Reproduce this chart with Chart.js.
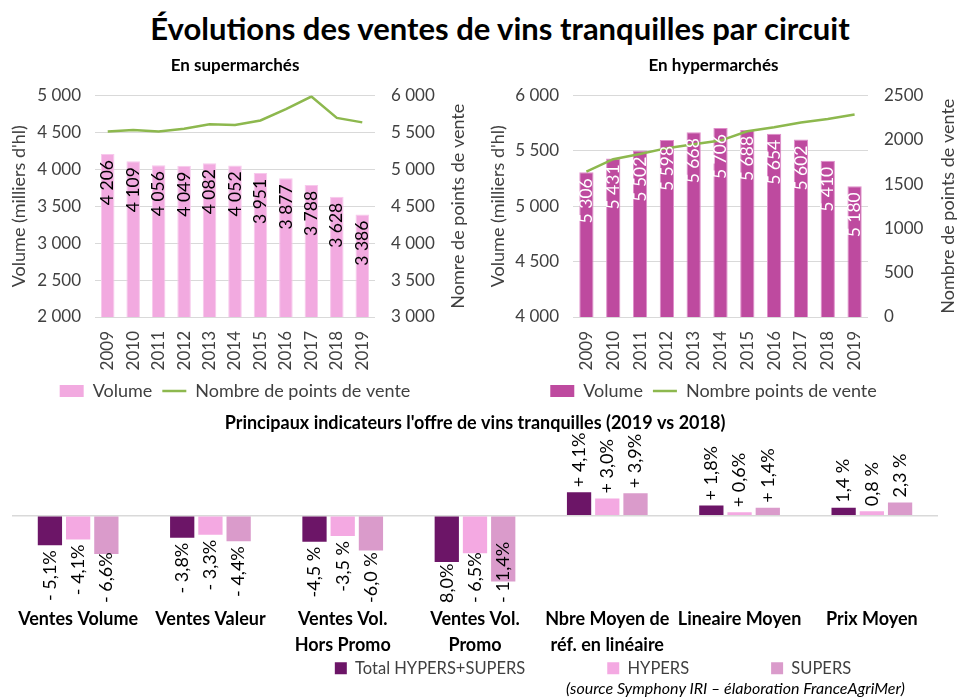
<!DOCTYPE html>
<html>
<head>
<meta charset="utf-8">
<script src="https://cdn.jsdelivr.net/npm/chart.js@4/dist/chart.umd.min.js"></script>
<style>
  body { margin: 0; background: #fff; font-family: Lato, sans-serif; }
  #page { position: relative; width: 957px; height: 698px; overflow: hidden; }
  #mainTitle { position: absolute; left: 0; top: 9px; width: 1000px; text-align: center;
    font-size: 31px; font-weight: bold; color: #000; }
  .box { position: absolute; }
  #source { position: absolute; left: 566px; top: 678px; font-size: 16px; font-style: italic; color: #000; }
</style>
</head>
<body>
<div id="page">
  <div id="mainTitle">Évolutions des ventes de vins tranquilles par circuit</div>
  <div class="box" style="left:0;top:50px;width:470px;height:360px"><canvas id="superChart"></canvas></div>
  <div class="box" style="left:470px;top:50px;width:487px;height:360px"><canvas id="hyperChart"></canvas></div>
  <div class="box" style="left:0;top:410px;width:957px;height:288px"><canvas id="offreChart"></canvas></div>
  <div id="source">(source Symphony IRI – élaboration FranceAgriMer)</div>
</div>
<script>
// Data
const years = ['2009', '2010', '2011', '2012', '2013', '2014', '2015', '2016', '2017', '2018', '2019'];
const superVolume = [4206, 4109, 4056, 4049, 4082, 4052, 3951, 3877, 3788, 3628, 3386];
const superPoints = [5510, 5530, 5510, 5550, 5610, 5600, 5660, 5815, 5985, 5695, 5635];
const hyperVolume = [5306, 5431, 5502, 5598, 5668, 5706, 5688, 5654, 5602, 5410, 5180];
const hyperPoints = [1640, 1780, 1840, 1905, 1950, 1990, 2095, 2140, 2195, 2235, 2285];

const indicators = ['Ventes Volume', 'Ventes Valeur', ['Ventes Vol.', 'Hors Promo'], ['Ventes Vol.', 'Promo'],
    ['Nbre Moyen de', 'réf. en linéaire'], 'Lineaire Moyen', 'Prix Moyen'];
const totalEvol = [-5.1, -3.8, -4.5, -8.0, 4.1, 1.8, 1.4];
const hypersEvol = [-4.1, -3.3, -3.5, -6.5, 3.0, 0.6, 0.8];
const supersEvol = [-6.6, -4.4, -6.0, -11.4, 3.9, 1.4, 2.3];
const totalLabels = ['- 5,1%', '- 3,8%', '-4,5 %', '8,0%', '+ 4,1%', '+ 1,8%', '1,4 %'];
const hypersLabels = ['- 4,1%', '- 3,3%', '-3,5 %', '- 6,5%', '+ 3,0%', '+ 0,6%', '0,8 %'];
const supersLabels = ['- 6,6%', '- 4,4%', '-6,0 %', '- 11,4%', '+ 3,9%', '+ 1,4%', '2,3 %'];

const FONT = 'Lato, sans-serif';
const GRID = '#d9d9d9';
const TXT = '#404040';
const GREEN = '#8DB84E';

// thousands with a space: 5 000
const fmt = v => {
    const s = String(Math.round(v));
    return s.replace(/\B(?=(\d{3})+(?!\d))/g, ' ');
};

// rotated bar labels (no datalabels plugin offline)
const barLabels = {
    id: 'barLabels',
    afterDatasetsDraw(chart, args, opts) {
        const ctx = chart.ctx;
        ctx.save();
        ctx.font = `${opts.size || 15}px ${FONT}`;
        ctx.textBaseline = 'middle';
        chart.data.datasets.forEach((ds, i) => {
            if (ds.type === 'line' || !ds.labels) return;
            const meta = chart.getDatasetMeta(i);
            ctx.fillStyle = ds.labelColor || '#000';
            meta.data.forEach((el, j) => {
                const txt = ds.labels[j];
                const w = ctx.measureText(txt).width;
                ctx.save();
                if (opts.mode === 'inside') {
                    ctx.translate(el.x, el.y + 6);
                    ctx.rotate(-Math.PI / 2);
                    ctx.textAlign = 'right';
                } else if (ds.data[j] < 0) {
                    let y = el.y + 5;
                    const limit = chart.chartArea.bottom - 2;
                    if (y + w > limit) y = limit - w;
                    ctx.translate(el.x, y);
                    ctx.rotate(-Math.PI / 2);
                    ctx.textAlign = 'right';
                } else {
                    ctx.translate(el.x, el.y - 5);
                    ctx.rotate(-Math.PI / 2);
                    ctx.textAlign = 'left';
                }
                ctx.fillText(txt, 0, 0);
                ctx.restore();
            });
        });
        ctx.restore();
    }
};

// right axis title read bottom-to-top, like the left one
const rightTitle = {
    id: 'rightTitle',
    afterDraw(chart, args, opts) {
        if (!opts.text) return;
        const ctx = chart.ctx;
        const s = chart.scales.y2;
        const area = chart.chartArea;
        ctx.save();
        ctx.font = `${opts.size}px ${FONT}`;
        ctx.fillStyle = TXT;
        ctx.textAlign = 'center';
        ctx.textBaseline = 'middle';
        ctx.translate(s.right - opts.inset, (area.top + area.bottom) / 2);
        ctx.rotate(-Math.PI / 2);
        ctx.fillText(opts.text, 0, 0);
        ctx.restore();
    }
};

// move the legend of the bottom chart (wide item padding, small box)
const legendShift = {
    id: 'legendShift',
    afterLayout(chart, args, opts) {
        const l = chart.legend;
        l.left += opts.dx || 0;
        l.right += opts.dx || 0;
        l.top += opts.dy || 0;
        l.bottom = chart.height;
    }
};

function makeCircuitChart(id, title, volume, points, barColor, borderColor, labelColor,
                          yMin, yMax, yMin2, yMax2, rightText, lineLabel, leftW, rightW, rightFmt, leftTitlePad, rightInset) {
    return new Chart(document.getElementById(id), {
        data: {
            labels: years,
            datasets: [
                {
                    type: 'line',
                    label: lineLabel,
                    data: points,
                    yAxisID: 'y2',
                    borderColor: GREEN,
                    backgroundColor: GREEN,
                    borderWidth: 2.5,
                    pointRadius: 0,
                    tension: 0,
                    order: 0
                },
                {
                    type: 'bar',
                    label: 'Volume',
                    data: volume,
                    yAxisID: 'y',
                    backgroundColor: barColor,
                    borderColor: borderColor,
                    borderWidth: 1,
                    barPercentage: 0.95,
                    categoryPercentage: 0.56,
                    labels: volume.map(fmt),
                    labelColor: labelColor,
                    order: 1
                }
            ]
        },
        options: {
            responsive: true,
            maintainAspectRatio: false,
            animation: false,
            plugins: {
                title: {
                    display: true,
                    text: title,
                    color: '#000',
                    font: { family: FONT, size: 17, weight: 'bold' },
                    padding: { top: 5, bottom: 20 }
                },
                legend: {
                    position: 'bottom',
                    reverse: true,
                    labels: {
                        color: TXT,
                        font: { family: FONT, size: 18 },
                        usePointStyle: true,
                        pointStyleWidth: 24,
                        boxHeight: 12,
                        padding: 10,
                        generateLabels(chart) {
                            return chart.data.datasets.map((ds, i) => ({
                                text: ds.label,
                                fillStyle: ds.backgroundColor,
                                strokeStyle: ds.type === 'line' ? GREEN : ds.backgroundColor,
                                lineWidth: ds.type === 'line' ? 2.5 : 0,
                                datasetIndex: i,
                                pointStyle: ds.type === 'line' ? 'line' : 'rect',
                                fontColor: TXT
                            }));
                        }
                    }
                },
                tooltip: { enabled: false },
                barLabels: { mode: 'inside', size: 17.5 },
                rightTitle: { text: rightText, size: 18, inset: rightInset }
            },
            scales: {
                x: {
                    grid: { display: false },
                    border: { display: false },
                    ticks: { color: TXT, font: { family: FONT, size: 17 }, maxRotation: 90, minRotation: 90, padding: 6 },
                    afterFit(s) { s.height = 55; }
                },
                y: {
                    position: 'left',
                    min: yMin, max: yMax,
                    ticks: { stepSize: 500, color: TXT, font: { family: FONT, size: 17 }, padding: 14, callback: v => fmt(v) },
                    grid: { color: GRID, drawTicks: false, lineWidth: 1 },
                    border: { display: false },
                    title: { display: true, text: "Volume (milliers d'hl)", color: TXT, font: { family: FONT, size: 18 },
                             padding: { top: leftTitlePad, bottom: 0 } },
                    afterFit(s) { s.width = leftW; }
                },
                y2: {
                    position: 'right',
                    min: yMin2, max: yMax2,
                    ticks: { stepSize: 500, color: TXT, font: { family: FONT, size: 17 }, padding: 16, callback: rightFmt },
                    grid: { display: false, drawTicks: false },
                    border: { display: false },
                    afterFit(s) { s.width = rightW; }
                }
            }
        },
        plugins: [barLabels, rightTitle]
    });
}

makeCircuitChart('superChart', 'En supermarchés', superVolume, superPoints, '#F2AAE0', '#F7C9EC', '#000',
    2000, 5000, 3000, 6000, 'Nomre de points de vente', 'Nombre de points de vente', 95, 95, v => fmt(v), 8, 12);
makeCircuitChart('hyperChart', 'En hypermarchés', hyperVolume, hyperPoints, '#BE4A9F', '#E08FCB', '#fff',
    4000, 6000, 0, 2500, 'Nombre de points de vente', 'Nombre points de vente', 103, 89, v => String(v), 17, 9);

// Principaux indicateurs
new Chart(document.getElementById('offreChart'), {
    type: 'bar',
    data: {
        labels: indicators,
        datasets: [
            { label: 'Total HYPERS+SUPERS', data: totalEvol, backgroundColor: '#6C1567', labels: totalLabels },
            { label: 'HYPERS', data: hypersEvol, backgroundColor: '#F4A9E2', labels: hypersLabels },
            { label: 'SUPERS', data: supersEvol, backgroundColor: '#DA9BCB', labels: supersLabels }
        ]
    },
    options: {
        responsive: true,
        maintainAspectRatio: false,
        animation: false,
        datasets: { bar: { barPercentage: 0.86, categoryPercentage: 0.64 } },
        layout: { padding: { left: 12, right: 19, top: 0, bottom: 0 } },
        plugins: {
            title: {
                display: true,
                text: "Principaux indicateurs l'offre de vins tranquilles (2019 vs 2018)",
                color: '#000',
                font: { family: FONT, size: 18, weight: 'bold' },
                padding: { top: 2, bottom: 6 }
            },
            legend: {
                position: 'bottom',
                maxHeight: 30,
                labels: { color: TXT, font: { family: FONT, size: 16.5 }, boxWidth: 12, boxHeight: 12, padding: 82 }
            },
            legendShift: { dx: 118, dy: -90 },
            tooltip: { enabled: false },
            barLabels: { mode: 'outside', size: 18 }
        },
        scales: {
            x: {
                grid: { display: false },
                border: { display: false },
                ticks: { color: '#000', font: { family: FONT, size: 18, weight: 'bold', lineHeight: 1.4 }, maxRotation: 0, padding: -6 },
                afterFit(s) { s.height = 63; }
            },
            y: {
                min: -15.45, max: 13.2,
                ticks: { display: false, stepSize: 5 },
                grid: { color: c => (c.tick && c.tick.value === 0 ? GRID : 'transparent'), drawTicks: false, lineWidth: 1.5 },
                border: { display: false },
                afterFit(s) { s.width = 0; }
            }
        }
    },
    plugins: [barLabels, legendShift]
});
</script>
</body>
</html>
